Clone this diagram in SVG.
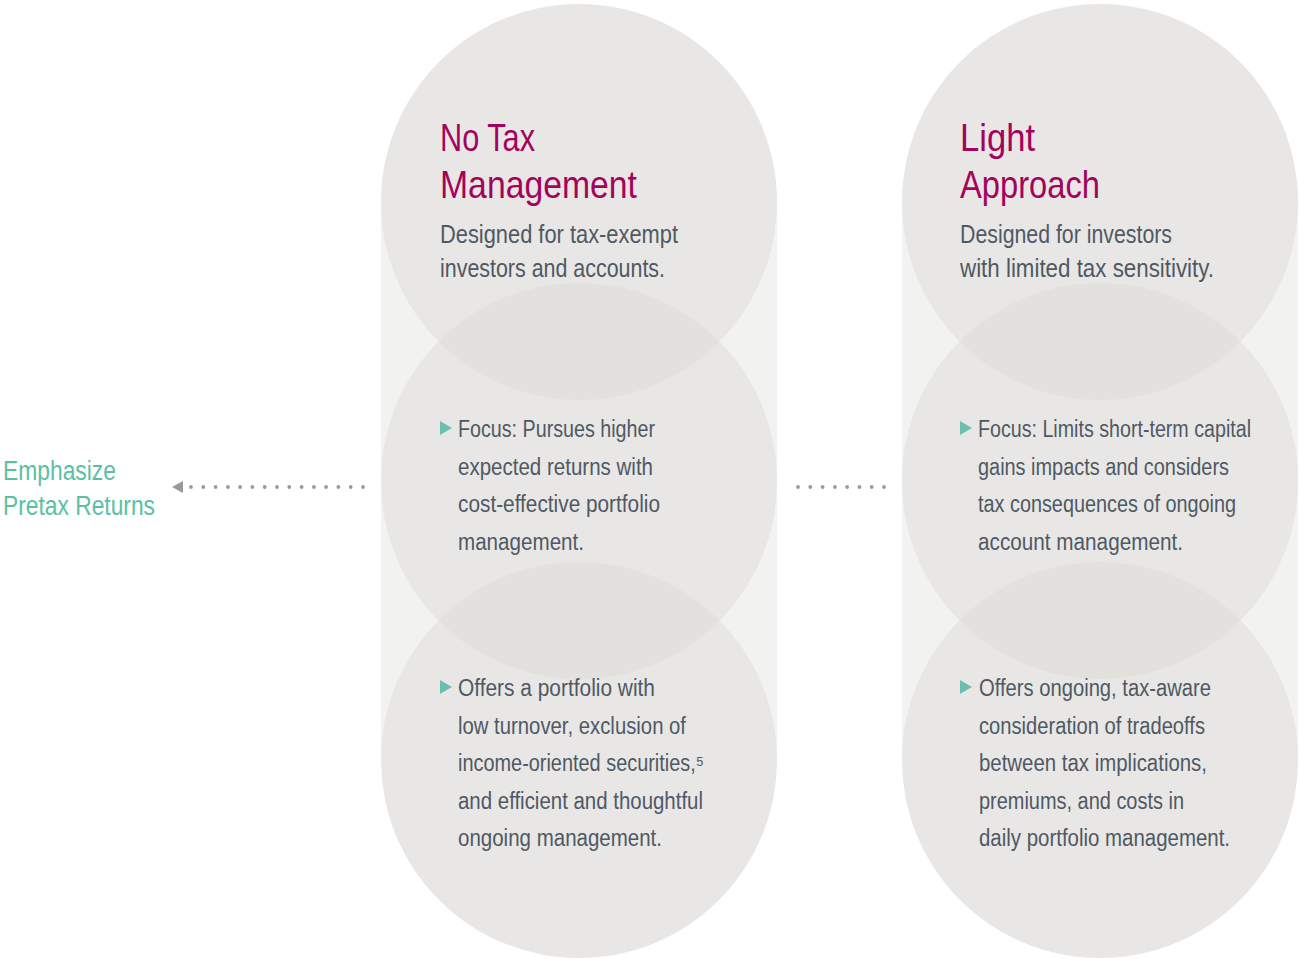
<svg xmlns="http://www.w3.org/2000/svg" width="1299" height="959" viewBox="0 0 1299 959">
<style>
.bg{fill:#f2f2f1}
.c{fill:#e8e7e5}
.lens{fill:#e2e1de}
text{font-family:"Liberation Sans Narrow","Liberation Sans",Arial,sans-serif}
.t{fill:#a4035c;font-size:39px}
.s{fill:#4f5964;font-size:25px}
.b{fill:#4f5964;font-size:23px}
.g{fill:#5bbfa4;font-size:27px}
.tri{fill:#6cbfae}
.dot{fill:#9a9a9a}
</style>
<rect width="1299" height="959" fill="#ffffff"/>
<g id="node-no-tax">
<rect class="bg" x="381" y="202" width="396" height="558"/>
<circle class="c" cx="579" cy="202" r="198"/>
<circle class="c" cx="579" cy="481" r="198"/>
<circle class="c" cx="579" cy="760" r="198"/>
<path class="lens" d="M438.5 341.5A198 198 0 0 1 719.5 341.5A198 198 0 0 1 438.5 341.5Z"/>
<path class="lens" d="M438.5 620.5A198 198 0 0 1 719.5 620.5A198 198 0 0 1 438.5 620.5Z"/>
<text class="t" x="440" y="151" textLength="95" lengthAdjust="spacingAndGlyphs">No Tax</text>
<text class="t" x="440" y="198" textLength="197" lengthAdjust="spacingAndGlyphs">Management</text>
<text class="s" x="440" y="243" textLength="238" lengthAdjust="spacingAndGlyphs">Designed for tax-exempt</text>
<text class="s" x="440" y="277" textLength="225" lengthAdjust="spacingAndGlyphs">investors and accounts.</text>
<polygon class="tri" points="440,421 452,428 440,435"/>
<text class="b" x="458" y="437" textLength="197" lengthAdjust="spacingAndGlyphs">Focus: Pursues higher</text>
<text class="b" x="458" y="474.5" textLength="195" lengthAdjust="spacingAndGlyphs">expected returns with</text>
<text class="b" x="458" y="512" textLength="202" lengthAdjust="spacingAndGlyphs">cost-effective portfolio</text>
<text class="b" x="458" y="549.5" textLength="126" lengthAdjust="spacingAndGlyphs">management.</text>
<polygon class="tri" points="440,680 452,687 440,694"/>
<text class="b" x="458" y="696" textLength="197" lengthAdjust="spacingAndGlyphs">Offers a portfolio with</text>
<text class="b" x="458" y="733.5" textLength="228" lengthAdjust="spacingAndGlyphs">low turnover, exclusion of</text>
<text class="b" x="458" y="771" textLength="246" lengthAdjust="spacingAndGlyphs">income-oriented securities,⁵</text>
<text class="b" x="458" y="808.5" textLength="245" lengthAdjust="spacingAndGlyphs">and efficient and thoughtful</text>
<text class="b" x="458" y="846" textLength="204" lengthAdjust="spacingAndGlyphs">ongoing management.</text>
</g>
<g id="node-light">
<rect class="bg" x="902" y="202" width="396" height="558"/>
<circle class="c" cx="1100" cy="202" r="198"/>
<circle class="c" cx="1100" cy="481" r="198"/>
<circle class="c" cx="1100" cy="760" r="198"/>
<path class="lens" d="M959.5 341.5A198 198 0 0 1 1240.5 341.5A198 198 0 0 1 959.5 341.5Z"/>
<path class="lens" d="M959.5 620.5A198 198 0 0 1 1240.5 620.5A198 198 0 0 1 959.5 620.5Z"/>
<text class="t" x="960" y="151" textLength="75" lengthAdjust="spacingAndGlyphs">Light</text>
<text class="t" x="960" y="198" textLength="140" lengthAdjust="spacingAndGlyphs">Approach</text>
<text class="s" x="960" y="243" textLength="212" lengthAdjust="spacingAndGlyphs">Designed for investors</text>
<text class="s" x="960" y="277" textLength="254" lengthAdjust="spacingAndGlyphs">with limited tax sensitivity.</text>
<polygon class="tri" points="960,421 972,428 960,435"/>
<text class="b" x="978" y="437" textLength="273" lengthAdjust="spacingAndGlyphs">Focus: Limits short-term capital</text>
<text class="b" x="978" y="474.5" textLength="251" lengthAdjust="spacingAndGlyphs">gains impacts and considers</text>
<text class="b" x="978" y="512" textLength="258" lengthAdjust="spacingAndGlyphs">tax consequences of ongoing</text>
<text class="b" x="978" y="549.5" textLength="205" lengthAdjust="spacingAndGlyphs">account management.</text>
<polygon class="tri" points="960,680 972,687 960,694"/>
<text class="b" x="979" y="696" textLength="232" lengthAdjust="spacingAndGlyphs">Offers ongoing, tax-aware</text>
<text class="b" x="979" y="733.5" textLength="226" lengthAdjust="spacingAndGlyphs">consideration of tradeoffs</text>
<text class="b" x="979" y="771" textLength="228" lengthAdjust="spacingAndGlyphs">between tax implications,</text>
<text class="b" x="979" y="808.5" textLength="205" lengthAdjust="spacingAndGlyphs">premiums, and costs in</text>
<text class="b" x="979" y="846" textLength="251" lengthAdjust="spacingAndGlyphs">daily portfolio management.</text>
</g>
<g id="node-emphasize">
<text class="g" x="3" y="480" textLength="113" lengthAdjust="spacingAndGlyphs">Emphasize</text>
<text class="g" x="3" y="515" textLength="152" lengthAdjust="spacingAndGlyphs">Pretax Returns</text>
</g>
<g id="connectors">
<polygon class="dot" points="172,487 183,481 183,493"/>
<g class="dot">
<circle cx="191" cy="487" r="1.9"/><circle cx="203.3" cy="487" r="1.9"/><circle cx="215.6" cy="487" r="1.9"/><circle cx="227.9" cy="487" r="1.9"/><circle cx="240.1" cy="487" r="1.9"/><circle cx="252.4" cy="487" r="1.9"/><circle cx="264.7" cy="487" r="1.9"/><circle cx="277" cy="487" r="1.9"/><circle cx="289.3" cy="487" r="1.9"/><circle cx="301.6" cy="487" r="1.9"/><circle cx="313.9" cy="487" r="1.9"/><circle cx="326.1" cy="487" r="1.9"/><circle cx="338.4" cy="487" r="1.9"/><circle cx="350.7" cy="487" r="1.9"/><circle cx="363" cy="487" r="1.9"/>
<circle cx="798" cy="487" r="1.9"/><circle cx="810.3" cy="487" r="1.9"/><circle cx="822.6" cy="487" r="1.9"/><circle cx="834.9" cy="487" r="1.9"/><circle cx="847.1" cy="487" r="1.9"/><circle cx="859.4" cy="487" r="1.9"/><circle cx="871.7" cy="487" r="1.9"/><circle cx="884" cy="487" r="1.9"/>
</g>
</g>
</svg>
